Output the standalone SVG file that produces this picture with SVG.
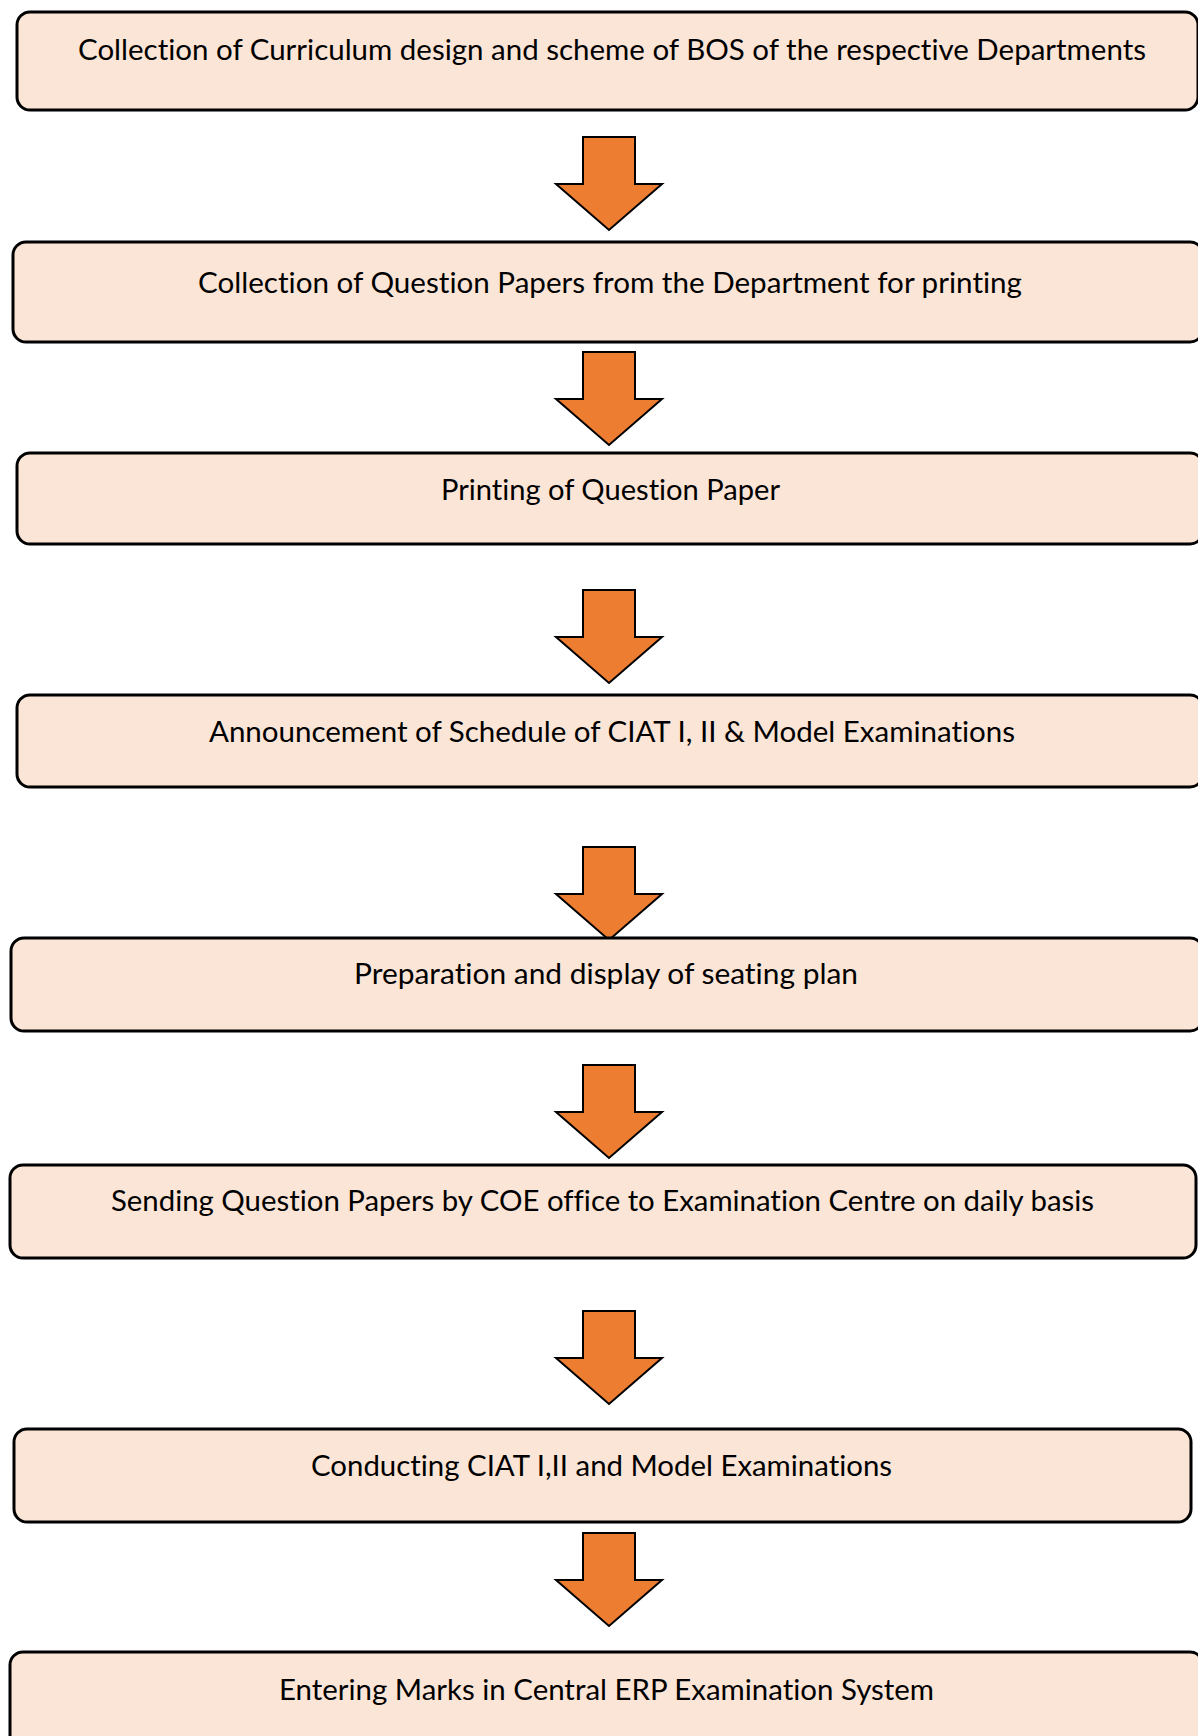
<svg xmlns="http://www.w3.org/2000/svg" width="1198" height="1736" viewBox="0 0 1198 1736">
  <style>
    .box { fill: #FBE5D6; stroke: #000; stroke-width: 3; }
    .lbl { font-family: Lato, "Liberation Sans", sans-serif; font-size: 28.5px; fill: #000; font-variant-ligatures: none; font-feature-settings: "liga" 0, "clig" 0, "dlig" 0, "calt" 0; }
    .arrow { fill: #ED7D31; stroke: #000; stroke-width: 2; stroke-linejoin: miter; }
  </style>
  <defs>
    <!-- block arrow pointing down, origin at top-centre of the shaft -->
    <path id="downArrow" class="arrow" d="M -26 0 H 26 V 47 H 53 L 0 93 L -53 47 H -26 Z"/>
  </defs>
  <rect width="1198" height="1736" fill="#fff"/>

  <g id="connectors">
    <use href="#downArrow" x="609" y="137"/>
    <use href="#downArrow" x="609" y="352"/>
    <use href="#downArrow" x="609" y="590"/>
    <use href="#downArrow" x="609" y="847"/>
    <use href="#downArrow" x="609" y="1065"/>
    <use href="#downArrow" x="609" y="1311"/>
    <use href="#downArrow" x="609" y="1533"/>
  </g>

  <g id="step1">
    <rect class="box" x="17" y="12" width="1181" height="98" rx="13"/>
    <text class="lbl" x="78" y="60" textLength="1068" lengthAdjust="spacingAndGlyphs">Collection of Curriculum design and scheme of BOS of the respective Departments</text>
  </g>
  <g id="step2">
    <rect class="box" x="13" y="242" width="1190" height="100" rx="13"/>
    <text class="lbl" x="198" y="293" textLength="824" lengthAdjust="spacingAndGlyphs">Collection of Question Papers from the Department for printing</text>
  </g>
  <g id="step3">
    <rect class="box" x="17" y="453" width="1186" height="91" rx="13"/>
    <text class="lbl" x="441" y="500" textLength="339" lengthAdjust="spacingAndGlyphs">Printing of Question Paper</text>
  </g>
  <g id="step4">
    <rect class="box" x="17" y="695" width="1186" height="92" rx="13"/>
    <text class="lbl" x="209" y="742" textLength="806" lengthAdjust="spacingAndGlyphs">Announcement of Schedule of CIAT I, II &amp; Model Examinations</text>
  </g>
  <g id="step5">
    <rect class="box" x="11" y="938" width="1192" height="93" rx="13"/>
    <text class="lbl" x="354" y="984" textLength="504" lengthAdjust="spacingAndGlyphs">Preparation and display of seating plan</text>
  </g>
  <g id="step6">
    <rect class="box" x="10" y="1165" width="1186" height="93" rx="13"/>
    <text class="lbl" x="111" y="1211" textLength="983" lengthAdjust="spacingAndGlyphs">Sending Question Papers by COE office to Examination Centre on daily basis</text>
  </g>
  <g id="step7">
    <rect class="box" x="14" y="1429" width="1177" height="93" rx="13"/>
    <text class="lbl" x="311" y="1476" textLength="581" lengthAdjust="spacingAndGlyphs">Conducting CIAT I,II and Model Examinations</text>
  </g>
  <g id="step8">
    <rect class="box" x="10" y="1652" width="1193" height="100" rx="13"/>
    <text class="lbl" x="279" y="1700" textLength="655" lengthAdjust="spacingAndGlyphs">Entering Marks in Central ERP Examination System</text>
  </g>
</svg>
